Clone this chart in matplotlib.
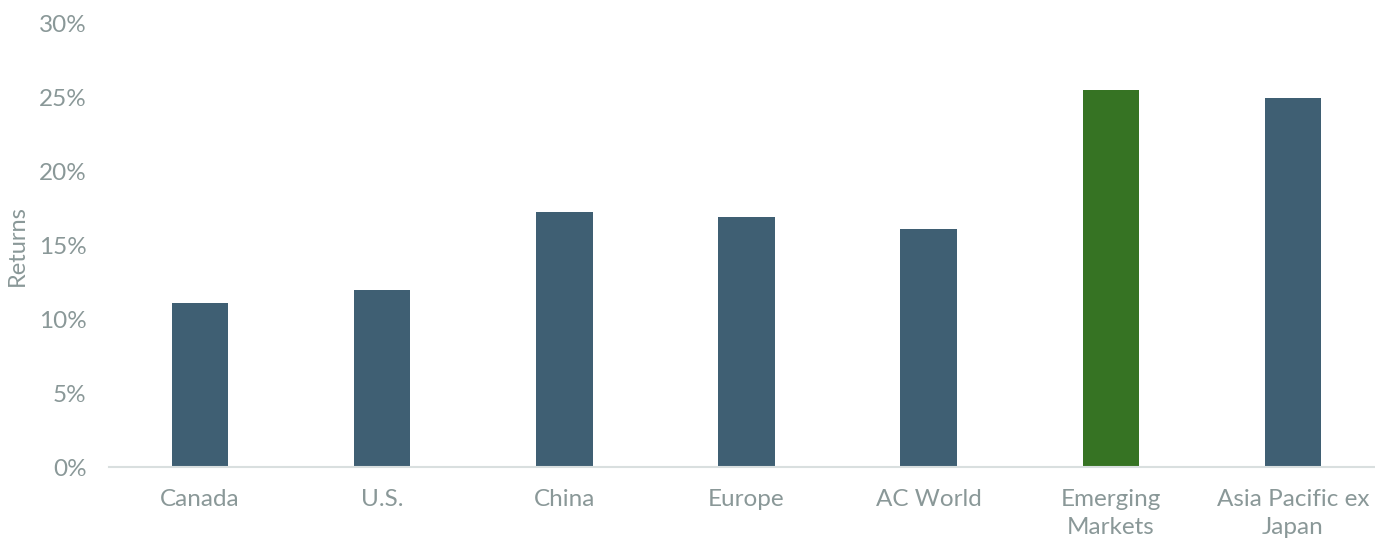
import matplotlib
matplotlib.use('Agg')
import matplotlib.pyplot as plt
from matplotlib.ticker import FuncFormatter

categories = ['Canada', 'U.S.', 'China', 'Europe', 'AC World', 'Emerging\nMarkets', 'Asia Pacific ex\nJapan']
returns = [11.1, 12.0, 17.3, 16.9, 16.1, 25.5, 25.0]
highlight = 'Emerging\nMarkets'

BLUE = '#3F5F73'
GREEN = '#367323'
TEXT = '#8A9898'

plt.rcParams['font.family'] = ['Lato', 'DejaVu Sans']

fig = plt.figure(figsize=(13.75, 5.38), dpi=100)
ax = fig.add_axes([109 / 1375, 71 / 538, 1 - 109 / 1375, (467 - 24) / 538])

colors = [GREEN if c == highlight else BLUE for c in categories]
x = list(range(len(categories)))
ax.bar(x, returns, width=0.31, color=colors, zorder=2)

ax.set_xlim(-0.5, 6.45)
ax.set_ylim(0, 30)
ax.set_yticks([0, 5, 10, 15, 20, 25, 30])
ax.yaxis.set_major_formatter(FuncFormatter(lambda v, p: f'{v:.0f}%'))
ax.set_xticks(x)
ax.set_xticklabels(categories, linespacing=1.4)

for s in ['top', 'right', 'left']:
    ax.spines[s].set_visible(False)
ax.spines['bottom'].set_color('#D9DFDF')
ax.spines['bottom'].set_linewidth(1.5)

ax.tick_params(axis='both', length=0, labelsize=17.5, colors=TEXT)
ax.tick_params(axis='x', pad=16)
ax.tick_params(axis='y', pad=16)
ax.set_ylabel('Returns', fontsize=17, color=TEXT, labelpad=8)

fig.savefig('out.png', dpi=100)
